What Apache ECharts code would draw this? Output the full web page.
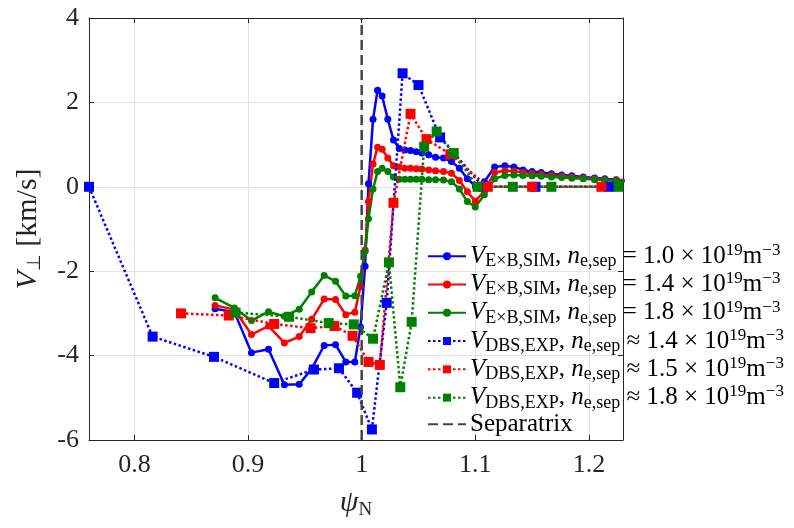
<!DOCTYPE html>
<html>
<head>
<meta charset="utf-8">
<script src="https://cdn.jsdelivr.net/npm/echarts@6/dist/echarts.min.js"></script>
<style>
  html, body { margin: 0; padding: 0; background: #fff; }
  #chart { width: 794px; height: 528px; }
</style>
</head>
<body>
<div id="chart"></div>
<script>
// shared psi_N grid of the simulation profiles
const simX = [0.871, 0.888, 0.903, 0.918, 0.932, 0.945, 0.956, 0.967, 0.977, 0.986,
  0.994, 0.999, 1.003, 1.006, 1.010, 1.014, 1.018, 1.023, 1.028, 1.033,
  1.038, 1.043, 1.048, 1.053, 1.059, 1.065, 1.072, 1.079, 1.086, 1.093,
  1.100, 1.108, 1.117, 1.126, 1.134, 1.142, 1.150, 1.158, 1.167, 1.176,
  1.185, 1.195, 1.205, 1.214, 1.224, 1.233];

const simBlue = [-2.89, -2.97, -3.93, -3.85, -4.69, -4.68, -4.31, -3.76, -3.74, -4.15,
  -4.15, -3.32, -1.88, 0.07, 1.60, 2.29, 2.15, 1.60, 1.11, 0.91,
  0.87, 0.86, 0.83, 0.80, 0.76, 0.70, 0.68, 0.60, 0.44, 0.19,
  0.02, 0.12, 0.47, 0.50, 0.47, 0.40, 0.36, 0.34, 0.31, 0.28,
  0.26, 0.23, 0.21, 0.19, 0.17, 0.15];

const simRed = [-2.81, -2.91, -3.50, -3.30, -3.70, -3.55, -3.14, -2.66, -2.67, -3.03,
  -2.97, -2.36, -1.50, -0.35, 0.54, 0.94, 0.89, 0.68, 0.50, 0.47,
  0.44, 0.44, 0.43, 0.42, 0.40, 0.38, 0.36, 0.32, 0.15, -0.12,
  -0.34, -0.10, 0.34, 0.38, 0.37, 0.34, 0.31, 0.29, 0.27, 0.25,
  0.23, 0.21, 0.19, 0.17, 0.16, 0.15];

const simGreen = [-2.63, -2.87, -3.17, -2.96, -3.07, -2.90, -2.49, -2.10, -2.24, -2.59,
  -2.58, -2.12, -1.53, -0.76, -0.05, 0.36, 0.44, 0.36, 0.23, 0.18,
  0.18, 0.18, 0.18, 0.18, 0.17, 0.17, 0.16, 0.12, -0.05, -0.35,
  -0.48, -0.19, 0.19, 0.27, 0.28, 0.27, 0.26, 0.25, 0.23, 0.22,
  0.20, 0.19, 0.17, 0.16, 0.14, 0.13];

// Doppler backscattering measurements
const dbsBlueX = [0.760, 0.816, 0.870, 0.923, 0.958, 0.980, 0.996, 1.009, 1.022, 1.036, 1.050, 1.069, 1.107, 1.153, 1.218];
const dbsBlueY = [0.00, -3.55, -4.03, -4.65, -4.33, -4.30, -4.88, -5.75, -2.75, 2.69, 2.41, 1.17, 0.00, 0.00, 0.00];

const dbsRedX = [0.841, 0.883, 0.923, 0.955, 0.976, 0.992, 1.006, 1.016, 1.028, 1.043, 1.057, 1.078, 1.111, 1.150, 1.211];
const dbsRedY = [-3.00, -3.05, -3.25, -3.35, -3.30, -3.53, -4.15, -4.22, -0.38, 1.73, 1.13, 0.77, 0.00, 0.00, 0.00];

const dbsGreenX = [0.889, 0.936, 0.971, 0.993, 1.010, 1.024, 1.034, 1.044, 1.055, 1.066, 1.081, 1.102, 1.133, 1.167, 1.226];
const dbsGreenY = [-2.98, -3.08, -3.23, -3.26, -3.60, -1.79, -4.75, -3.20, 0.95, 1.31, 0.80, 0.00, 0.00, 0.00, 0.00];

const separatrixX = [1, 1];
const separatrixY = [-6, 4];

const simDensity = ['1.0', '1.4', '1.8'];
const dbsDensity = ['1.4', '1.5', '1.8'];

const colors = ['#0000ff', '#ff0000', '#008000'];
const font = 'Liberation Serif';

function pairs(xs, ys) {
  return xs.map((x, i) => [x, ys[i]]);
}

function simLabel(d) {
  return '{v|V}{sb|E×B,SIM}{r|, }{v|n}{sb|e,sep}{r| = ' + d + ' × 10}{sp|19}{r|m}{sp|−3}';
}
function dbsLabel(d) {
  return '{v|V}{sb|DBS,EXP}{r|, }{v|n}{sb|e,sep}{r| ≈ ' + d + ' × 10}{sp|19}{r|m}{sp|−3}';
}

let legendText = {
  sim0: simLabel(simDensity[0]),
  sim1: simLabel(simDensity[1]),
  sim2: simLabel(simDensity[2]),
  dbs0: dbsLabel(dbsDensity[0]),
  dbs1: dbsLabel(dbsDensity[1]),
  dbs2: dbsLabel(dbsDensity[2]),
  sep: '{r|Separatrix}'
};

function simSeries(name, ys, color) {
  return {
    name: name,
    type: 'line',
    data: pairs(simX, ys),
    symbol: 'circle',
    symbolSize: 7,
    color: color,
    lineStyle: { width: 2.5, color: color },
    itemStyle: { color: color },
    z: 3
  };
}

function dbsSeries(name, xs, ys, color) {
  return {
    name: name,
    type: 'line',
    data: pairs(xs, ys),
    symbol: 'rect',
    symbolSize: 10,
    color: color,
    lineStyle: { width: 2.5, color: color, type: [2.5, 2.5] },
    itemStyle: { color: color },
    z: 4
  };
}

let myChart = echarts.init(document.getElementById('chart'), null, { renderer: 'canvas' });

const axisColor = '#262626';
const gridColor = '#e3e3e3';

let option = {
  animation: false,
  backgroundColor: '#ffffff',
  grid: { left: 89, right: 171, top: 18, bottom: 88, containLabel: false },
  xAxis: [
    {
      type: 'value',
      min: 0.76,
      max: 1.23,
      splitNumber: 5,
      name: '{i|ψ}{s|N}',
      nameLocation: 'middle',
      nameGap: 46,
      nameTextStyle: {
        rich: {
          i: { fontFamily: font, fontSize: 30, fontStyle: 'italic', color: axisColor, lineHeight: 34 },
          s: { fontFamily: font, fontSize: 19, color: axisColor, verticalAlign: 'bottom', lineHeight: 20 }
        }
      },
      axisLine: { onZero: false, lineStyle: { color: axisColor, width: 1 } },
      axisTick: { inside: true, length: 5, lineStyle: { color: axisColor } },
      axisLabel: {
        showMinLabel: false, showMaxLabel: false,
        fontFamily: font, fontSize: 26, color: axisColor, margin: 12
      },
      splitLine: { show: true, lineStyle: { color: gridColor, width: 1 } }
    },
    {
      type: 'value',
      position: 'top',
      min: 0.76,
      max: 1.23,
      splitNumber: 5,
      axisLine: { onZero: false, lineStyle: { color: axisColor, width: 1 } },
      axisTick: { inside: true, length: 5, lineStyle: { color: axisColor } },
      axisLabel: { show: false },
      splitLine: { show: false }
    }
  ],
  yAxis: [
    {
      type: 'value',
      min: -6,
      max: 4,
      interval: 2,
      name: '{v|V}{s|⊥}{r| [km/s]}',
      nameLocation: 'middle',
      nameGap: 44,
      nameRotate: 90,
      nameTextStyle: {
        rich: {
          v: { fontFamily: font, fontSize: 30, fontStyle: 'italic', color: axisColor, lineHeight: 34 },
          r: { fontFamily: font, fontSize: 30, color: axisColor, lineHeight: 34 },
          s: { fontFamily: font, fontSize: 19, color: axisColor, verticalAlign: 'bottom', lineHeight: 22 }
        }
      },
      axisLine: { onZero: false, lineStyle: { color: axisColor, width: 1 } },
      axisTick: { inside: true, length: 5, lineStyle: { color: axisColor } },
      axisLabel: { fontFamily: font, fontSize: 26, color: axisColor, margin: 10 },
      splitLine: { show: true, lineStyle: { color: gridColor, width: 1 } }
    },
    {
      type: 'value',
      position: 'right',
      min: -6,
      max: 4,
      interval: 2,
      axisLine: { onZero: false, lineStyle: { color: axisColor, width: 1 } },
      axisTick: { inside: true, length: 5, lineStyle: { color: axisColor } },
      axisLabel: { show: false },
      splitLine: { show: false }
    }
  ],
  legend: {
    orient: 'vertical',
    left: 427,
    top: 242,
    padding: 0,
    itemGap: 0,
    itemWidth: 38,
    itemHeight: 10,
    data: ['sim0', 'sim1', 'sim2', 'dbs0', 'dbs1', 'dbs2',
      { name: 'sep', itemStyle: { opacity: 0 } }],
    formatter: (name) => legendText[name],
    textStyle: {
      padding: [0, 0, 0, -1],
      rich: {
        v: { fontFamily: font, fontSize: 25, fontStyle: 'italic', color: '#000', lineHeight: 28.3 },
        r: { fontFamily: font, fontSize: 25, color: '#000', lineHeight: 28.3 },
        sb: { fontFamily: font, fontSize: 18, color: '#000', verticalAlign: 'bottom', lineHeight: 15 },
        sp: { fontFamily: font, fontSize: 17, color: '#000', verticalAlign: 'top', lineHeight: 14 }
      }
    }
  },
  series: [
    simSeries('sim0', simBlue, colors[0]),
    simSeries('sim1', simRed, colors[1]),
    simSeries('sim2', simGreen, colors[2]),
    dbsSeries('dbs0', dbsBlueX, dbsBlueY, colors[0]),
    dbsSeries('dbs1', dbsRedX, dbsRedY, colors[1]),
    dbsSeries('dbs2', dbsGreenX, dbsGreenY, colors[2]),
    {
      name: 'sep',
      type: 'line',
      data: pairs(separatrixX, separatrixY),
      symbol: 'none',
      color: '#444444',
      lineStyle: { width: 2.5, color: '#444444', type: [10, 5] },
      z: 5
    }
  ]
};

myChart.setOption(option);

window.addEventListener('resize', function() {
  myChart.resize();
});
</script>
</body>
</html>
